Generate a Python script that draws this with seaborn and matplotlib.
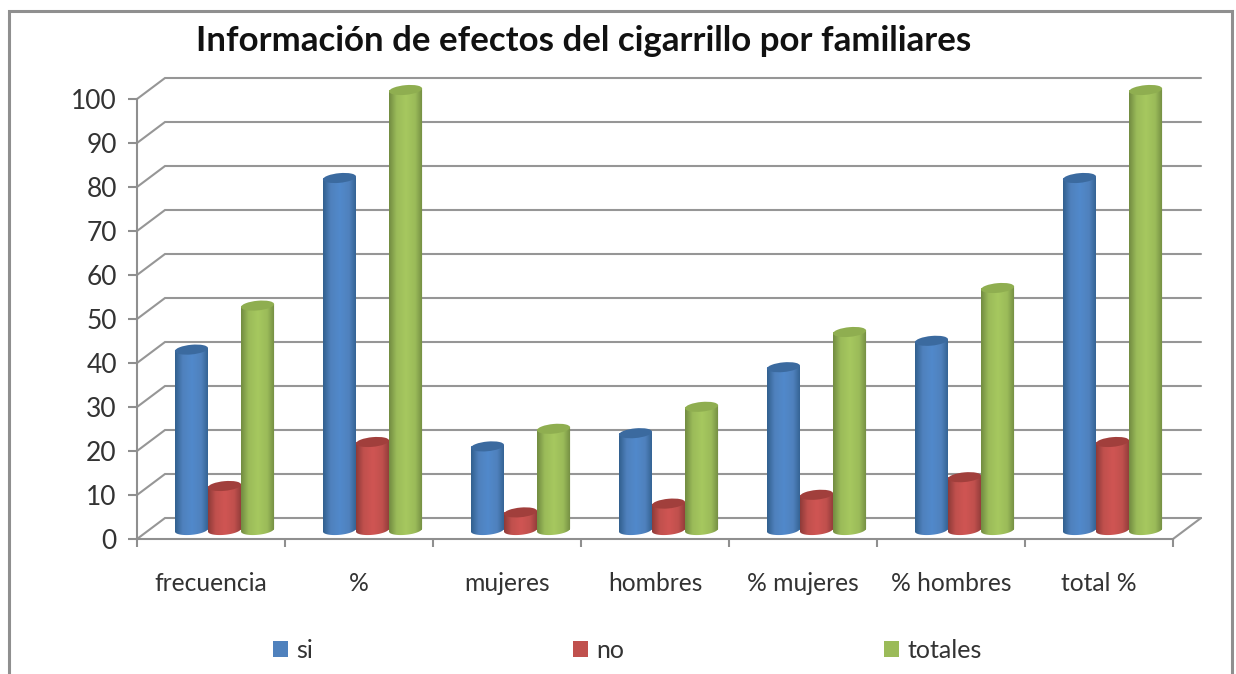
import numpy as np
import pandas as pd
import matplotlib
matplotlib.use("Agg")
import matplotlib.pyplot as plt
from matplotlib.patches import Ellipse, Rectangle
from matplotlib.path import Path
from matplotlib.transforms import Affine2D
from matplotlib.colors import LinearSegmentedColormap
import seaborn as sns

title = "Información de efectos del cigarrillo por familiares"
categories = ["frecuencia", "%", "mujeres", "hombres", "% mujeres", "% hombres", "total %"]
si = [41, 80, 19, 22, 37, 43, 80]
no = [10, 20, 4, 6, 8, 12, 20]
totales = [51, 100, 23, 28, 45, 55, 100]
series_names = ["si", "no", "totales"]
y_ticks = list(range(0, 101, 10))

base_colors = {"si": "#4f81bd", "no": "#c0504d", "totales": "#9bbb59"}
light_colors = {"si": "#5189cb", "no": "#d05553", "totales": "#a6c85f"}
dark_colors = {"si": "#32608f", "no": "#8f3b39", "totales": "#728c42"}
cap_colors = {"si": "#3b6a9f", "no": "#a13f3c", "totales": "#8fae50"}
GREY = "#8f8f8f"
TEXT = "#333333"

sns.set_theme(style="white")
plt.rcParams["font.family"] = ["Lato", "DejaVu Sans"]

W, H = 1236, 674
fig = plt.figure(figsize=(W / 100, H / 100), dpi=100, facecolor="white")


def axes_px(left, top, right, bottom):
    return fig.add_axes([left / W, 1 - bottom / H, (right - left) / W, (bottom - top) / H])


# outer chart frame (open at the bottom, cut by the image edge)
fig.add_artist(Rectangle((8.5 / W, -0.05), (1232 - 8.5) / W, 1.05 - 11 / H,
                         transform=fig.transFigure, fill=False, ec=GREY, lw=2.2))

# front plane: axis lines, ticks, labels, plus back wall gridlines
ax = axes_px(137, 99, 1173, 539)
ax.set_xlim(-0.5, 6.5)
ax.set_ylim(0, 100)
ax.patch.set_alpha(0)
for s in ["top", "right"]:
    ax.spines[s].set_visible(False)
for s in ["left", "bottom"]:
    ax.spines[s].set_color(GREY)
    ax.spines[s].set_linewidth(1.5)
ax.set_yticks(y_ticks)
ax.set_xticks(range(len(categories)))
ax.set_xticklabels(categories)
ax.set_xticks(np.arange(-0.5, 7, 1), minor=True)
ax.tick_params(axis="y", length=6.5, width=1.5, color=GREY, labelsize=19, labelcolor=TEXT, pad=8, left=True)
ax.tick_params(axis="x", which="major", length=0, labelsize=17.7, labelcolor=TEXT, pad=23.5)
ax.tick_params(axis="x", which="minor", length=6, width=1.5, color=GREY, bottom=True)

depth_x = 28 / 148
depth_y = 21 / 4.4
for v in y_ticks:
    ax.plot([-0.5, -0.5 + depth_x, 6.5 + depth_x], [v, v + depth_y, v + depth_y],
            color="#969696", lw=1.5, clip_on=False, zorder=1, solid_joinstyle="miter")
ax.plot([6.5, 6.5 + depth_x], [0, depth_y], color="#969696", lw=1.5, clip_on=False, zorder=1)

# bars sit half way into the depth of the chart
df = pd.DataFrame({"categoria": categories, "si": si, "no": no, "totales": totales}).melt(
    id_vars="categoria", var_name="serie", value_name="valor")
bx = axes_px(137 + 13.5, 90, 1173 + 13.5, 530)
bx.patch.set_alpha(0)
sns.barplot(data=df, x="categoria", y="valor", hue="serie", hue_order=series_names,
            palette=base_colors, width=0.67, gap=0, errorbar=None, linewidth=0, saturation=1, ax=bx)
bx.set_xlim(-0.5, 6.5)
bx.set_ylim(0, 100)
handles, labels = bx.get_legend_handles_labels()

# cylinder shading from each bar's own geometry
ry = 1.1       # cap half height in value units
skew = 3.0     # cap tilt, value units per category
t = np.linspace(0, np.pi, 40)
pos = np.linspace(0, 1, 64)
n = len(categories)
bars = [p for p in bx.patches if p.get_height() > 0]
for i, name in enumerate(series_names):
    cmap = LinearSegmentedColormap.from_list(
        name, [(0, dark_colors[name]), (0.22, base_colors[name]), (0.5, light_colors[name]),
               (0.78, base_colors[name]), (1, dark_colors[name])])
    for p in bars[i * n:(i + 1) * n]:
        x0, w, v = p.get_x(), p.get_width(), p.get_height()
        a, cx = w / 2, x0 + w / 2
        z = 3 + i
        p.set_zorder(z)
        xs = cx + a * np.cos(t)
        ys = -ry * np.sin(t) + skew * a * np.cos(t)
        verts = list(zip(xs, ys)) + [(x0, v - skew * a), (x0 + w, v + skew * a), (xs[0], ys[0])]
        path = Path(verts)
        im = bx.imshow(cmap(pos)[None, :, :3], extent=(x0, x0 + w, -3, v + 3), aspect="auto",
                       interpolation="bilinear", zorder=z + 0.1)
        im.set_clip_box(fig.bbox)
        im.set_clip_path(path, transform=bx.transData)
        cap = Ellipse((0, 0), 2, 2, fc=cap_colors[name], ec="none", zorder=z + 0.2,
                      transform=Affine2D(np.array([[a, 0, cx], [skew * a, ry, v], [0, 0, 1]])) + bx.transData)
        cap.set_clip_on(False)
        bx.add_patch(cap)
bx.set_xlim(-0.5, 6.5)
bx.set_ylim(0, 100)
bx.set_axis_off()

bx.legend(handles, labels, loc="center", bbox_to_anchor=(627.5 / W, 1 - 650 / H),
          bbox_transform=fig.transFigure, ncol=3, frameon=False, fontsize=18,
          labelcolor=TEXT, handlelength=0.6, handleheight=0.6, handletextpad=0.32,
          columnspacing=10.4, borderpad=0, borderaxespad=0)

fig.text(584 / W, 1 - 41 / H, title, ha="center", va="center", fontsize=25.1,
         fontweight="bold", color="#111111")

fig.savefig("out.png", dpi=100, facecolor="white")
